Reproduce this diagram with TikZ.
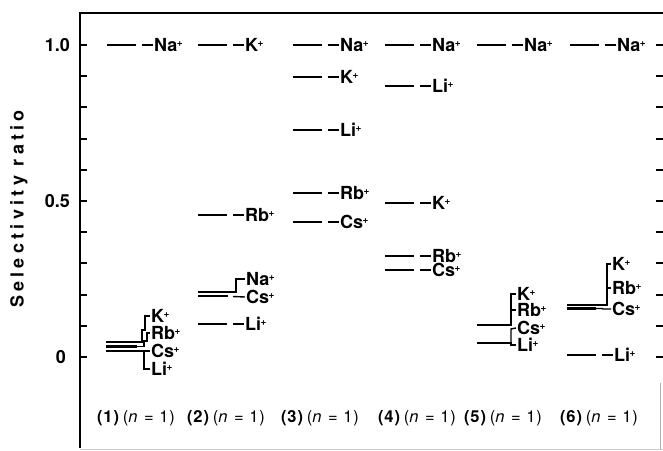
\documentclass[tikz,border=0pt]{standalone}
\usepackage{fontspec}
\setmainfont{TeX Gyre Heros}
\newfontfamily\ylabfont[LetterSpace=24]{TeX Gyre Heros}
\newfontfamily\capfont[LetterSpace=6]{TeX Gyre Heros}
\begin{document}
\begin{tikzpicture}[x=1pt,y=-1pt]
\tikzset{
  bar/.style={line width=2.2pt},
  conn/.style={line width=1.4pt},
  axis/.style={line width=2.6pt},
  tick/.style={line width=2pt},
  ion/.style={font=\bfseries\fontsize{18}{18}\selectfont, inner sep=0pt, anchor=west, text height=13pt, text depth=0pt},
  ticklab/.style={font=\bfseries\fontsize{18}{18}\selectfont, inner sep=0pt},
  caplab/.style={font=\capfont\fontsize{16.5}{16.5}\selectfont, inner sep=0pt},
}
\newcommand\ionsimple[4]{%
  \node[ion] (#3) at (#1+47,#2) {#4};
  \draw[bar] (#1,#2) -- ++(29,0);
  \draw[conn] (#1+35,#2) -- ([xshift=-1pt]#3.west);
}
\newcommand\pl{\kern-0.5pt\raisebox{5.5pt}{\fontsize{10}{10}\selectfont\bfseries +}}
\useasboundingbox (0,0) rectangle (663,450);
% axes
\coordinate (ax0) at (80,448);
\coordinate (ax1) at (80,13);
\coordinate (ax2) at (663,13);
\draw[axis] (ax0) -- (ax1) -- (ax2);
\foreach \v in {0,...,10}{
  \draw[tick] (80,357-31.2*\v) -- ++(7,0);
  \draw[tick] (656,357-31.2*\v) -- ++(7,0);
}
\draw[gray!60, line width=0.8pt] (660,383) -- (660,450);
\draw[gray!40, line width=1pt] (80,449) -- (663,449);
\node[ticklab, anchor=east] (t10) at (70,45) {1.0};
\node[ticklab, anchor=east] (t05) at (70,201) {0.5};
\node[ticklab, anchor=east] (t00) at (66,357) {0};
\node[font=\ylabfont\bfseries\fontsize{18}{18}\selectfont, rotate=90, inner sep=0pt] (ylab) at (19,209) {Selectivity ratio};
% column 1
\ionsimple{107}{45}{c1na}{Na\pl}
\draw[bar] (106,342) -- (137,342);
\draw[bar] (106,346.5) -- (137,346.5);
\draw[bar] (106,351) -- (137,351);
\node[ion] (c1k) at (151,316) {K\pl};
\node[ion] (c1rb) at (151,333) {Rb\pl};
\node[ion] (c1cs) at (151,351) {Cs\pl};
\node[ion] (c1li) at (151,369) {Li\pl};
\draw[conn] (137,342) -- (142,342) -- (142,330) -- (145,330) -- (145,316) -- ([xshift=-1pt]c1k.west);
\draw[conn] (137,346.5) -- (144,346.5) -- (144,341) -- (147,341) -- (147,333) -- ([xshift=-1pt]c1rb.west);
\draw[conn] (137,351) -- ([xshift=-1pt]c1cs.west);
\draw[conn] (144,351) -- (144,369) -- ([xshift=-1pt]c1li.west);
% column 2
\ionsimple{198}{45}{c2k}{K\pl}
\ionsimple{198}{215}{c2rb}{Rb\pl}
\draw[bar] (198,292) -- (228,292);
\draw[bar] (198,296) -- (228,296);
\node[ion] (c2na) at (246,279) {Na\pl};
\node[ion] (c2cs) at (246,297) {Cs\pl};
\draw[conn] (228,292) -- (236,292) -- (236,279) -- ([xshift=-1pt]c2na.west);
\draw[conn] (233,296.5) -- ([xshift=-1pt]c2cs.west);
\ionsimple{198}{324}{c2li}{Li\pl}
% column 3
\ionsimple{293}{45}{c3na}{Na\pl}
\ionsimple{293}{77}{c3k}{K\pl}
\ionsimple{293}{130}{c3li}{Li\pl}
\ionsimple{293}{193}{c3rb}{Rb\pl}
\ionsimple{293}{222}{c3cs}{Cs\pl}
% column 4
\ionsimple{385}{45}{c4na}{Na\pl}
\ionsimple{385}{86}{c4li}{Li\pl}
\ionsimple{385}{203}{c4k}{K\pl}
\ionsimple{385}{256}{c4rb}{Rb\pl}
\ionsimple{385}{270}{c4cs}{Cs\pl}
% column 5
\ionsimple{477}{45}{c5na}{Na\pl}
\draw[bar] (477,325) -- (505,325);
\draw[bar] (477,343) -- (505,343);
\node[ion] (c5k) at (517,294) {K\pl};
\node[ion] (c5rb) at (517,310) {Rb\pl};
\node[ion] (c5cs) at (517,328) {Cs\pl};
\node[ion] (c5li) at (517,345) {Li\pl};
\draw[conn] (505,325) -- (511,325) -- (511,294) -- ([xshift=-1pt]c5k.west);
\draw[conn] (511,310) -- ([xshift=-1pt]c5rb.west);
\draw[conn] (505,343) -- (511,343) -- (511,345) -- ([xshift=-1pt]c5li.west);
\draw[conn] (511,345) -- (511,329) -- ([xshift=-1pt]c5cs.west);
% column 6
\ionsimple{570}{45}{c6na}{Na\pl}
\draw[bar] (567,305) -- (596,305);
\draw[bar] (567,308.5) -- (596,308.5);
\node[ion] (c6k) at (612,264) {K\pl};
\node[ion] (c6rb) at (612,288) {Rb\pl};
\node[ion] (c6cs) at (612,309) {Cs\pl};
\draw[conn] (596,305) -- (607,305) -- (607,264) -- ([xshift=-1pt]c6k.west);
\draw[conn] (607,288) -- ([xshift=-1pt]c6rb.west);
\draw[conn] (596,308.5) -- (602,308.5) -- (603,309) -- ([xshift=-1pt]c6cs.west);
\ionsimple{567}{355}{c6li}{Li\pl}
% captions
\node[caplab] (cap1) at (136,418) {\textbf{(1)}\,(\textit{n} = 1)};
\node[caplab] (cap2) at (226,418) {\textbf{(2)}\,(\textit{n} = 1)};
\node[caplab] (cap3) at (320,418) {\textbf{(3)}\,(\textit{n} = 1)};
\node[caplab] (cap4) at (417,418) {\textbf{(4)}\,(\textit{n} = 1)};
\node[caplab] (cap5) at (503,418) {\textbf{(5)}\,(\textit{n} = 1)};
\node[caplab] (cap6) at (599,418) {\textbf{(6)}\,(\textit{n} = 1)};
\end{tikzpicture}
\end{document}
